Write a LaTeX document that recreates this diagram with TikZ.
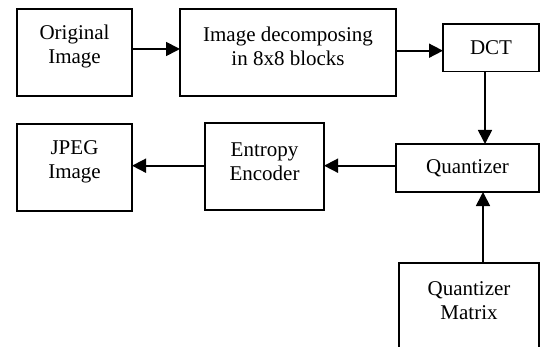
\documentclass[tikz,border=0pt]{standalone}
\usepackage{fontspec}
\setmainfont{Liberation Serif}
\usetikzlibrary{arrows.meta}

\tikzset{
  blk/.style={draw, line width=1.7pt, inner sep=0pt, outer sep=0pt},
  lbl/.style={inner sep=0pt, align=center, font=\fontsize{21}{24}\selectfont},
  arr/.style={line width=1.7pt, -{Triangle[length=14pt,width=14pt]}},
}

\begin{document}
\begin{tikzpicture}[x=1pt, y=-1pt]
  \useasboundingbox (0,0) rectangle (545,347);
  \clip (0,0) rectangle (545,347);

  % processing blocks
  \node[blk, minimum width=115pt, minimum height=87pt]  (orig)    at (74.5,52.5)  {};
  \node[blk, minimum width=216pt, minimum height=87pt]  (decomp)  at (288,52.5)   {};
  \node[blk, minimum width=96pt,  minimum height=47.5pt] (dct)    at (491,47.75)  {};
  \node[blk, minimum width=143pt, minimum height=48pt]  (quant)   at (467.5,168)  {};
  \node[blk, minimum width=119pt, minimum height=87pt]  (entropy) at (264.5,166.5) {};
  \node[blk, minimum width=115pt, minimum height=87pt]  (jpeg)    at (74.5,167.5) {};
  \node[blk, minimum width=140pt, minimum height=100pt] (qm)      at (469,313)    {};

  % block captions
  \node[lbl] (origtxt)    at (74.5,46)  {Original\\Image};
  \node[lbl] (decomptxt)  at (288,46)   {Image decomposing\\in 8x8 blocks};
  \node[lbl] (dcttxt)     at (491,47.5) {DCT};
  \node[lbl] (quanttxt)   at (467.5,168.5) {Quantizer};
  \node[lbl] (entropytxt) at (264.5,161.5) {Entropy\\Encoder};
  \node[lbl] (jpegtxt)    at (74.5,162) {JPEG\\Image};
  \node[lbl] (qmtxt)      at (469,301)  {Quantizer\\Matrix};

  % data flow
  \draw[arr] ([yshift=3.5pt]orig.east) -- ([yshift=3.5pt]decomp.west);
  \draw[arr] ([yshift=1.8pt]decomp.east) -- ([yshift=1.8pt]decomp.east -| dct.west);
  \draw[arr] ([xshift=-6pt]dct.south) -- ([xshift=-6pt]dct.south |- quant.north);
  \draw[arr] ([yshift=2.3pt]quant.west) -- ([yshift=2.3pt]quant.west -| entropy.east);
  \draw[arr] ([yshift=0.8pt]entropy.west) -- ([yshift=0.8pt]entropy.west -| jpeg.east);
  \draw[arr] ([xshift=14pt]qm.north) -- ([xshift=14pt]qm.north |- quant.south);
\end{tikzpicture}
\end{document}
